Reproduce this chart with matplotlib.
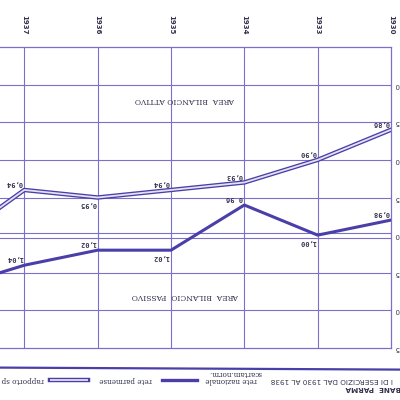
import matplotlib.pyplot as plt
from matplotlib.lines import Line2D

# dati (grafico scansionato capovolto)
anni = ['1930', '1933', '1934', '1935', '1936', '1937', '1938']
rete_parmense = [0.86, 0.90, 0.93, 0.94, 0.95, 0.94, 1.01]
rete_nazionale = [0.98, 1.00, 0.96, 1.02, 1.02, 1.04, 1.07]
etichette_parmense = ['0,86', '0,90', '0,93', '0,94', '0,95', '0,94']
etichette_nazionale = ['0,98', '1,00', '0 96', '1,02', '1,02', '1,04']
tick_y = [0.80, 0.85, 0.90, 0.95, 1.00, 1.05, 1.10, 1.15]

# lato etichetta nell'immagine: -1 sopra, +1 sotto
lato_parmense = [-1, -1, -1, -1, 1, -1]
lato_nazionale = [-1, 1, -1, 1, -1, -1]

viola = '#4a3fa8'
griglia = '#7a70cc'
testo = '#34324e'

fig = plt.figure(figsize=(4, 4), dpi=100)
fig.patch.set_facecolor('white')
ax = fig.add_axes([-0.1225, 0.13, 1.1, 0.7525])
ax.set_xlim(6, 0)
ax.set_ylim(1.15, 0.75)

for s in ['top', 'right', 'bottom']:
    ax.spines[s].set_color(griglia)
    ax.spines[s].set_linewidth(0.9)
ax.spines['left'].set_visible(False)

x = list(range(len(anni)))
for i in x[1:-1]:
    ax.axvline(i, color=griglia, lw=0.8)
for v in tick_y[:-1]:
    if v == 1.00:
        ax.axhline(v - 0.003, color=griglia, lw=0.8)
        ax.axhline(v + 0.004, color=griglia, lw=0.8)
    else:
        ax.axhline(v, color=griglia, lw=0.8)

ax.set_xticks(x[:-1])
ax.set_xticklabels(anni[:-1], fontweight='bold')
ax.xaxis.tick_top()
ax.tick_params(axis='x', length=0, pad=9, labelrotation=-90, labelsize=5, labelcolor=testo)
ax.set_yticks([])

# linee
ax.plot(x, rete_parmense, color=viola, lw=3.2, zorder=3)
ax.plot(x, rete_parmense, color='#e4e1f5', lw=1.3, zorder=4)
ax.plot(x, rete_nazionale, color=viola, lw=2.2, zorder=3)

for i, (v, t) in enumerate(zip(rete_parmense, etichette_parmense)):
    ax.annotate(t, (i, v), xytext=(-7, -5 * lato_parmense[i]), textcoords='offset points',
                ha='center', va='center', rotation=180, fontsize=5, color=testo,
                family='DejaVu Sans Mono', fontweight='bold')
for i, (v, t) in enumerate(zip(rete_nazionale, etichette_nazionale)):
    ax.annotate(t, (i, v), xytext=(-7, -5 * lato_nazionale[i]), textcoords='offset points',
                ha='center', va='center', rotation=180, fontsize=5, color=testo,
                family='DejaVu Sans Mono', fontweight='bold')

# etichette asse valori: si vede solo l'ultima cifra
for v in tick_y:
    ax.annotate(('%.2f' % v)[-1], (1.0, v), xycoords=('axes fraction', 'data'),
                xytext=(3, 0), textcoords='offset points', ha='left', va='center',
                rotation=180, fontsize=5, color=testo, annotation_clip=False)

ax.text(2.81, 0.82, 'AREA  BILANCIO ATTIVO', rotation=180,
        ha='center', va='center', fontsize=5.5, color=testo, family='DejaVu Serif')
ax.text(2.81, 1.081, 'AREA  BILANCIO  PASSIVO', rotation=180,
        ha='center', va='center', fontsize=5.5, color=testo, family='DejaVu Serif')

# intestazione in basso
fig.add_artist(Line2D([0, 1], [0.081, 0.076], transform=fig.transFigure, color=viola, lw=1.6))
fig.text(0.83, 0.05, 'I DI ESERCIZIO DAL 1930 AL 1938', rotation=180, ha='center', va='center',
         fontsize=5.2, color=testo)
fig.text(0.932, 0.03, 'BANE  PARMA', rotation=180, ha='center', va='center',
         fontsize=5.2, color=testo, fontweight='bold')
fig.text(0.578, 0.05, 'rete nazionale', rotation=180, ha='center', va='center',
         fontsize=5.2, color=testo, family='DejaVu Serif')
fig.text(0.588, 0.068, 'scartam.norm.', rotation=180, ha='center', va='center',
         fontsize=5.2, color=testo, family='DejaVu Serif')
fig.add_artist(Line2D([0.405, 0.493], [0.05, 0.05], transform=fig.transFigure, color=viola, lw=2.4))
fig.text(0.313, 0.05, 'rete parmense', rotation=180, ha='center', va='center',
         fontsize=5.2, color=testo, family='DejaVu Serif')
fig.add_artist(Line2D([0.125, 0.22], [0.05, 0.05], transform=fig.transFigure, color=viola, lw=3.2))
fig.add_artist(Line2D([0.127, 0.218], [0.05, 0.05], transform=fig.transFigure, color='#d8d4f2', lw=1.4))
fig.text(0.056, 0.05, 'rapporto sp', rotation=180, ha='center', va='center',
         fontsize=5.2, color=testo, family='DejaVu Serif')

fig.savefig('out.png', dpi=100)
